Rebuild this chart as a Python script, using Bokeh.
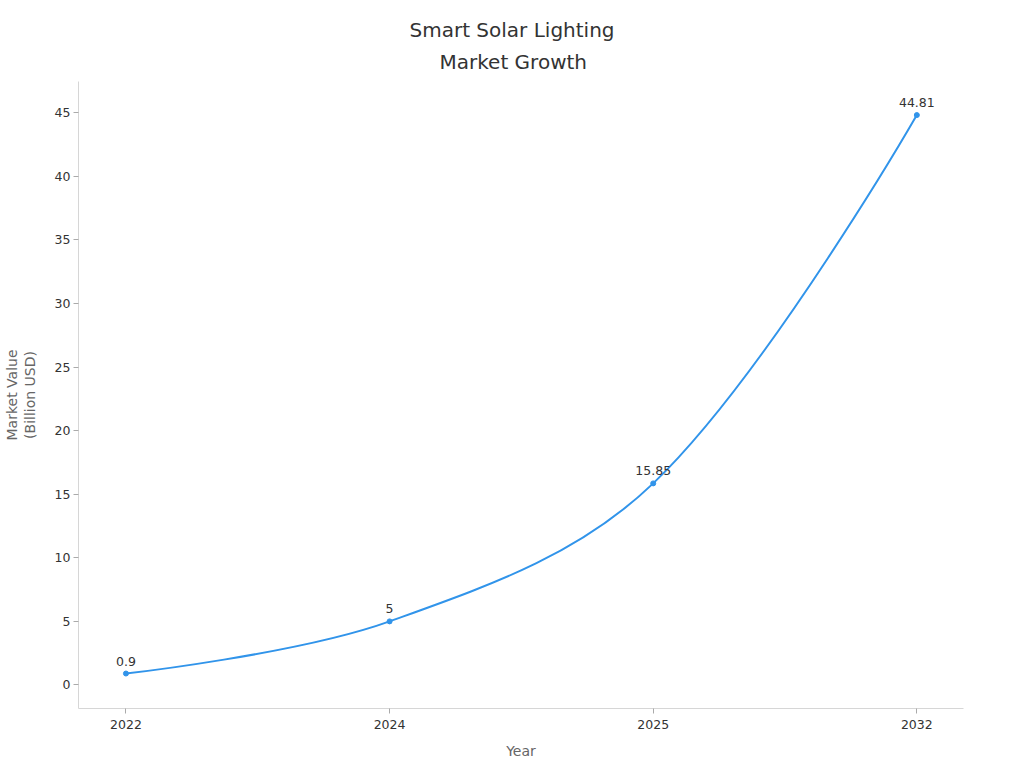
from bokeh.core.properties import value
from bokeh.embed import file_html
from bokeh.resources import INLINE
from bokeh.plotting import figure
from bokeh.models import ColumnDataSource, LabelSet, Title, FixedTicker, Range1d

years = ["2022", "2024", "2025", "2032"]
values = [0.9, 5, 15.85, 44.81]
y_ticks = [0, 5, 10, 15, 20, 25, 30, 35, 40, 45]
labels = ["0.9", "5", "15.85", "44.81"]
title_lines = ["Smart Solar Lighting", "Market Growth"]

FONT = "DejaVu Sans"
BLUE = "#3194EA"
idx = list(range(len(years)))

p = figure(width=1024, height=768, output_backend="svg", toolbar_location=None,
           x_range=Range1d(-0.18, 3.177), y_range=Range1d(-1.85, 47.45),
           min_border_left=78, min_border_right=61, min_border_top=81, min_border_bottom=60)
p.outline_line_color = None
p.grid.visible = False
p.background_fill_color = "white"

# smooth line: Bezier segments whose control points derive from the data values
XS, YS, SMOOTH = 263.2, 12.72, 0.36
def ctrl(i):
    a, b = max(i - 1, 0), min(i + 1, len(idx) - 1)
    d0 = ((idx[i] - idx[a]) ** 2 * XS ** 2 + (values[i] - values[a]) ** 2 * YS ** 2) ** 0.5
    d1 = ((idx[b] - idx[i]) ** 2 * XS ** 2 + (values[b] - values[i]) ** 2 * YS ** 2) ** 0.5
    s = (d0 + d1) or 1
    vx, vy = (idx[b] - idx[a]) * SMOOTH, (values[b] - values[a]) * SMOOTH
    return (idx[i] - vx * d0 / s, values[i] - vy * d0 / s), (idx[i] + vx * d1 / s, values[i] + vy * d1 / s)

seg = dict(x0=[], y0=[], x1=[], y1=[], cx0=[], cy0=[], cx1=[], cy1=[])
for i in range(len(idx) - 1):
    c0 = ctrl(i)[1] if i > 0 else (idx[i], values[i])
    c1 = ctrl(i + 1)[0] if i + 1 < len(idx) - 1 else (idx[i + 1], values[i + 1])
    seg["x0"].append(idx[i]); seg["y0"].append(values[i])
    seg["x1"].append(idx[i + 1]); seg["y1"].append(values[i + 1])
    seg["cx0"].append(c0[0]); seg["cy0"].append(c0[1])
    seg["cx1"].append(c1[0]); seg["cy1"].append(c1[1])
p.bezier(x0="x0", y0="y0", x1="x1", y1="y1", cx0="cx0", cy0="cy0", cx1="cx1", cy1="cy1",
         source=ColumnDataSource(seg), line_color=BLUE, line_width=2)

src = ColumnDataSource(dict(x=idx, y=values, t=labels))
p.scatter("x", "y", source=src, size=5, color=BLUE)
p.add_layout(LabelSet(x="x", y="y", text="t", source=src, text_align="center", text_baseline="bottom",
                      y_offset=8, text_font=value(FONT), text_font_size=value("12.5px"), text_color="#333333"))

p.xaxis.ticker = FixedTicker(ticks=idx)
p.xaxis.major_label_overrides = {i: y for i, y in zip(idx, years)}
p.yaxis.ticker = FixedTicker(ticks=y_ticks)
p.xaxis.axis_label = "Year"
p.yaxis.axis_label = "Market Value\n(Billion USD)"
for ax in (p.xaxis[0], p.yaxis[0]):
    ax.axis_line_color = "#d6d6d6"
    ax.axis_line_width = 1
    ax.major_tick_line_color = "#aaaaaa"
    ax.major_tick_line_width = 1
    ax.major_tick_in = 0
    ax.major_tick_out = 5
    ax.minor_tick_line_color = None
    ax.major_label_text_font = FONT
    ax.major_label_text_font_size = "12.5px"
    ax.major_label_text_color = "#333333"
    ax.major_label_standoff = 6
    ax.axis_label_text_font = FONT
    ax.axis_label_text_font_size = "14px"
    ax.axis_label_text_font_style = "normal"
    ax.axis_label_text_color = "#666666"
p.xaxis[0].axis_label_standoff = 11
p.yaxis[0].major_label_standoff = 3
p.yaxis[0].axis_label_standoff = 14
p.yaxis[0].axis_label_text_line_height = 1.1

for text, off, stand in zip(title_lines[::-1], (361, 331), (15, -3)):
    p.add_layout(Title(text=text, align="left", offset=off, standoff=stand, text_font=FONT,
                       text_font_size="20px", text_font_style="normal", text_color="#333333"), "above")

open("out.html", "w").write(file_html(p, INLINE))
